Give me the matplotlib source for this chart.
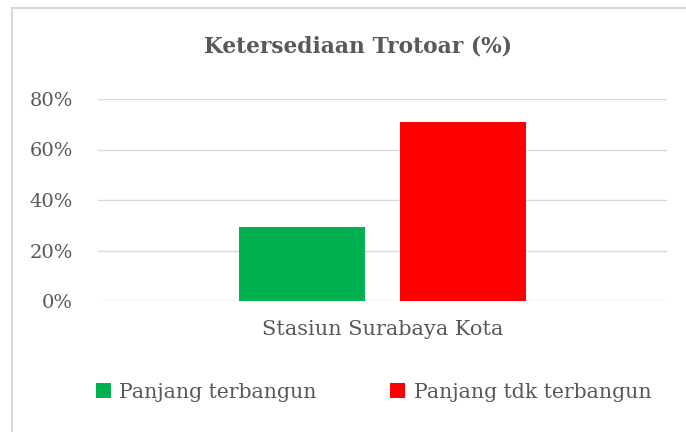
import matplotlib.pyplot as plt
from matplotlib.lines import Line2D

categories = ["Stasiun Surabaya Kota"]
series = ["Panjang terbangun", "Panjang tdk terbangun"]
values = [29.2, 70.7]
colors = ["#00B050", "#FF0000"]
yticks = [0, 20, 40, 60, 80]

TXT = "#595959"
plt.rcParams['font.family'] = ['DejaVu Serif']

fig = plt.figure(figsize=(6.86, 4.32), dpi=100)
ax = fig.add_axes([98/686, 1-301/432, (667-98)/686, (301-99)/432])

width = 0.2215
offsets = [-0.1415, 0.1415]
for i, name in enumerate(series):
	ax.bar(0 + offsets[i], values[i], width, color=colors[i], label=name, zorder=3)

ax.set_xlim(-0.5, 0.5)
ax.set_ylim(0, 80)
ax.set_yticks(yticks)
ax.set_yticklabels([str(t) + "%" for t in yticks], fontsize=14, color=TXT)
ax.set_xticks([0])
ax.set_xticklabels(categories, fontsize=15, color=TXT)
ax.tick_params(axis='both', length=0)
ax.tick_params(axis='y', pad=18)
ax.tick_params(axis='x', pad=14)
ax.grid(axis='y', color="#D9D9D9", linewidth=1.0, zorder=0)
for s in ax.spines.values():
	s.set_visible(False)

fig.text(0.522, 1-47/432, "Ketersediaan Trotoar (%)", ha='center', va='center',
	fontsize=15.7, fontweight='bold', color=TXT)

ax.legend(loc='center', bbox_to_anchor=(0.484, (1-392/432 - (1-301/432)) / ((301-99)/432)),
	bbox_transform=ax.transAxes, ncol=2, frameon=False, fontsize=14.7,
	handlelength=0.75, handleheight=0.75, handletextpad=0.4, columnspacing=3.6,
	labelcolor=TXT)

# chart border (top and left edges visible)
fig.add_artist(Line2D([12/686, 1], [1-8/432, 1-8/432], transform=fig.transFigure, color="#D9D9D9", linewidth=1.5))
fig.add_artist(Line2D([12/686, 12/686], [0, 1-8/432], transform=fig.transFigure, color="#D9D9D9", linewidth=1.5))

fig.savefig("out.png", dpi=100)
